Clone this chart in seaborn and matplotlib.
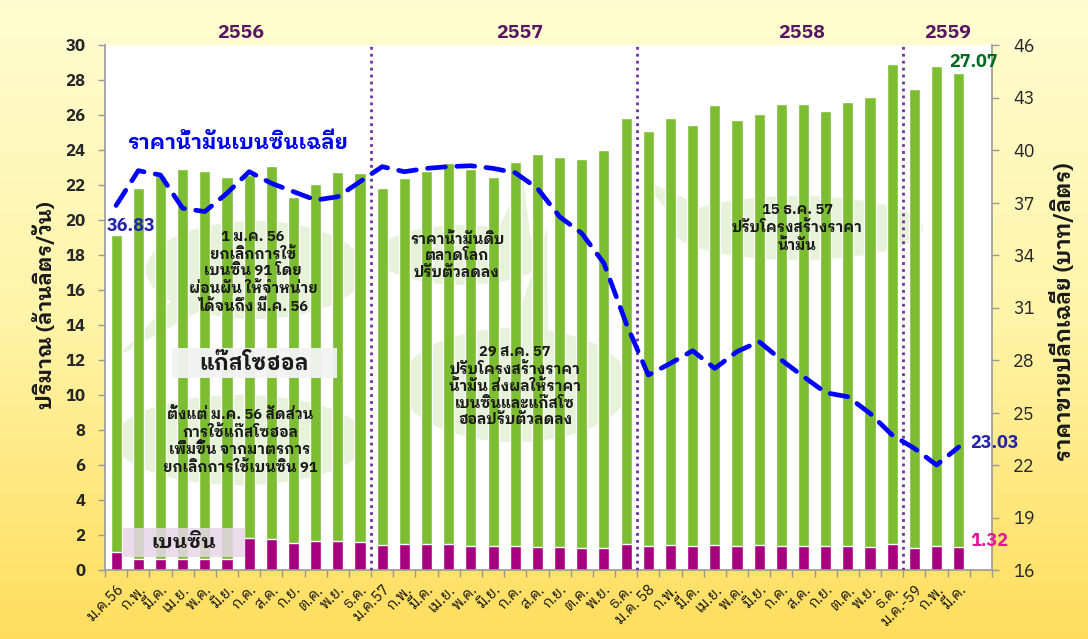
import numpy as np
import pandas as pd
import seaborn as sns
import matplotlib.pyplot as plt
from matplotlib.colors import LinearSegmentedColormap
from matplotlib.patches import Ellipse, Polygon, Rectangle

# --- data ---
months = ['ม.ค.56', 'ก.พ.', 'มี.ค.', 'เม.ย.', 'พ.ค.', 'มิ.ย.', 'ก.ค.', 'ส.ค.', 'ก.ย.', 'ต.ค.', 'พ.ย.', 'ธ.ค.',
          'ม.ค.57', 'ก.พ.', 'มี.ค.', 'เม.ย.', 'พ.ค.', 'มิ.ย.', 'ก.ค.', 'ส.ค.', 'ก.ย.', 'ต.ค.', 'พ.ย.', 'ธ.ค.',
          'ม.ค. 58', 'ก.พ.', 'มี.ค.', 'เม.ย.', 'พ.ค.', 'มิ.ย.', 'ก.ค.', 'ส.ค.', 'ก.ย.', 'ต.ค.', 'พ.ย.', 'ธ.ค.',
          'ม.ค.-59', 'ก.พ.', 'มี.ค.']
gasohol = [18.09, 21.22, 21.88, 22.27, 22.15, 21.85, 20.75, 21.28, 19.79, 20.44, 21.10, 21.09,
           20.40, 20.95, 21.31, 21.81, 21.55, 21.13, 21.98, 22.47, 22.32, 22.25, 22.76, 24.38,
           23.72, 24.44, 24.04, 25.14, 24.36, 24.65, 25.24, 25.24, 24.86, 25.35, 25.72, 27.44,
           26.23, 27.43, 27.07]
benzene = [1.05, 0.63, 0.63, 0.63, 0.63, 0.63, 1.85, 1.79, 1.52, 1.64, 1.64, 1.58,
           1.41, 1.47, 1.47, 1.47, 1.35, 1.35, 1.35, 1.30, 1.30, 1.24, 1.24, 1.47,
           1.37, 1.41, 1.37, 1.41, 1.37, 1.41, 1.37, 1.37, 1.37, 1.37, 1.31, 1.47,
           1.24, 1.37, 1.32]
price = [36.83, 38.82, 38.57, 36.67, 36.48, 37.53, 38.76, 38.10, 37.62, 37.14, 37.33, 38.19,
         39.05, 38.76, 38.95, 39.05, 39.10, 38.95, 38.70, 37.81, 36.19, 35.24, 33.53, 30.10,
         27.14, 27.81, 28.53, 27.52, 28.48, 29.05, 28.00, 27.05, 26.13, 25.90, 24.95, 23.71,
         22.95, 22.00, 23.03]
years = ['2556', '2557', '2558', '2559']

GREEN = '#7dbd31'
PURPLE = '#a6007e'
BLUE = '#0000ff'
W, H = 1088, 639

sns.set_theme(style='white')
plt.rcParams['font.family'] = ['IBM Plex Sans Thai Looped', 'Noto Sans Thai', 'DejaVu Sans']

df = pd.DataFrame({'idx': range(len(months)), 'gasohol': gasohol, 'benzene': benzene, 'price': price})
df['total'] = df['gasohol'] + df['benzene']

fig = plt.figure(figsize=(W / 100, H / 100), dpi=100)

# yellow slide background
bg = fig.add_axes([0, 0, 1, 1], zorder=-10)
grad = np.linspace(0, 1, 256).reshape(-1, 1)
bg.imshow(grad, aspect='auto', extent=[0, 1, 0, 1],
          cmap=LinearSegmentedColormap.from_list('bg', ['#ffde5e', '#fff4a8', '#fffdd2']), origin='lower')
bg.axis('off')


def fx(x):
    return x / W


def fy(y):
    return 1 - y / H


ax = fig.add_axes([fx(105), fy(570), fx(992) - fx(105), fy(45) - fy(570)])
ax.set_facecolor('white')

sns.barplot(data=df, x='idx', y='total', color=GREEN, width=0.5, saturation=1, ax=ax, zorder=2)
sns.barplot(data=df, x='idx', y='benzene', color=PURPLE, width=0.5, saturation=1, ax=ax, zorder=2)

ax.set_xlim(-0.5, len(months) + 0.5)
ax.set_ylim(0, 30)
ax.set_yticks(range(0, 31, 2))
ax.set_xticks(range(len(months)))
ax.set_xticklabels(months, rotation=45, ha='right', rotation_mode='anchor', fontsize=10.5, color='#111111')
ax.set_xticks(np.arange(-0.5, len(months) + 1, 1), minor=True)
ax.tick_params(axis='x', which='major', length=0, pad=9)
ax.tick_params(axis='x', which='minor', length=5, color='#999999', width=1, bottom=True)
ax.tick_params(axis='y', length=5, color='#999999', width=1, left=True, labelsize=12, pad=9)
for lbl in ax.get_yticklabels():
    lbl.set_fontweight('bold')
ax.set_xlabel('')
ax.set_ylabel('')
for s in ['left', 'bottom']:
    ax.spines[s].set_color('#999999')
    ax.spines[s].set_linewidth(1.2)
ax.spines['top'].set_visible(False)
ax.spines['right'].set_visible(False)

# year separators
for k in range(1, len(years)):
    ax.axvline(12 * k - 0.5, color='#7030a0', ls=(0, (1, 1.5)), lw=2, zorder=3)

# price line on the right axis
ax2 = ax.twinx()
sns.lineplot(data=df, x='idx', y='price', color=BLUE, lw=3.4, ax=ax2, zorder=5)
ln = ax2.lines[0]
ln.set_dashes((3.8, 2.4))
ln.set_dash_capstyle('round')
ax2.set_ylim(16, 46)
ax2.set_yticks(range(16, 47, 3))
ax2.set_xlim(-0.5, len(months) + 0.5)
ax2.set_ylabel('')
ax2.set_xlabel('')
ax2.tick_params(axis='y', length=5, color='#999999', width=1, right=True, labelsize=13, pad=10)
ax2.spines['right'].set_color('#999999')
ax2.spines['right'].set_linewidth(1.2)
for s in ['top', 'left', 'bottom']:
    ax2.spines[s].set_visible(False)

# callout bubbles (behind the bars)
BUB = '#e6f2da'
bubbles = [
    ((255, 270), 218, 98, [(180, 292), (205, 308), (118, 356)]),
    ((240, 440), 252, 90, None),
    ((462, 255), 170, 60, [(495, 236), (532, 250), (523, 177)]),
    ((515, 385), 230, 114, [(510, 340), (548, 336), (547, 228)]),
    ((797, 228), 252, 64, [(700, 205), (690, 240), (643, 180)]),
]
for (cx, cy), w, h, tail in bubbles:
    ax.add_patch(Ellipse((fx(cx), fy(cy)), w / W, h / H, transform=fig.transFigure,
                         facecolor=BUB, edgecolor='none', zorder=1))
    if tail:
        ax.add_patch(Polygon([(fx(x), fy(y)) for x, y in tail], closed=True, transform=fig.transFigure,
                             facecolor=BUB, edgecolor='none', zorder=1))

ax.add_patch(Rectangle((fx(172), fy(378)), (337 - 172) / W, 30 / H, transform=fig.transFigure,
                       facecolor='#f3f3f3', alpha=0.95, edgecolor='none', zorder=4))
ax.add_patch(Rectangle((fx(123), fy(557)), (245 - 123) / W, 29 / H, transform=fig.transFigure,
                       facecolor='#e7d6e8', alpha=0.85, edgecolor='none', zorder=4))

txt = dict(ha='center', va='center', fontsize=10.5, fontweight='bold', color='#1a1a1a', linespacing=1.22)
fig.text(fx(253), fy(272), '1 ม.ค. 56\nยกเลิกการใช้\nเบนซิน 91 โดย\nผ่อนผัน ให้จำหน่าย\nได้จนถึง มี.ค. 56', **txt)
fig.text(fx(240), fy(441), 'ตั้งแต่ ม.ค. 56 สัดส่วน\nการใช้แก๊สโซฮอล\nเพิ่มขึ้น จากมาตรการ\nยกเลิกการใช้เบนซิน 91', **txt)
fig.text(fx(457), fy(256), 'ราคาน้ำมันดิบ\nตลาดโลก\nปรับตัวลดลง', **txt)
fig.text(fx(515), fy(386), '29 ส.ค. 57\nปรับโครงสร้างราคา\nน้ำมัน ส่งผลให้ราคา\nเบนซินและแก๊สโซ\nฮอลปรับตัวลดลง', **txt)
fig.text(fx(797), fy(228), '15 ธ.ค. 57\nปรับโครงสร้างราคา\nน้ำมัน', **txt)

fig.text(fx(254), fy(363), 'แก๊สโซฮอล', ha='center', va='center', fontsize=15.5, fontweight='bold', color='#1a1a1a')
fig.text(fx(184), fy(543), 'เบนซิน', ha='center', va='center', fontsize=14.5, fontweight='bold', color='#1a1a1a')
fig.text(fx(238), fy(143), 'ราคาน้ำมันเบนซินเฉลี่ย', ha='center', va='center', fontsize=15,
         fontweight='bold', color='#0000ee')

# value labels
lab = dict(ha='center', va='center', fontsize=13, fontweight='bold')
fig.text(fx(131), fy(226), f'{price[0]:.2f}', color='#2222aa', **lab)
fig.text(fx(995), fy(443), f'{price[-1]:.2f}', color='#2222aa', **lab)
fig.text(fx(974), fy(62), f'{gasohol[-1]:.2f}', color='#006a1e', **lab)
fig.text(fx(989), fy(541), f'{benzene[-1]:.2f}', color='#e4159b', **lab)

# year headers
for name, xp in zip(years, [241, 520, 802, 948]):
    fig.text(fx(xp), fy(33), name, ha='center', va='center', fontsize=14, fontweight='bold', color='#5a1464')

fig.text(fx(45), fy(305), 'ปริมาณ (ล้านลิตร/วัน)', rotation=90, ha='center', va='center',
         fontsize=15, fontweight='bold', color='#1a1a1a')
fig.text(fx(1062), fy(312), 'ราคาขายปลีกเฉลี่ย (บาท/ลิตร)', rotation=90, ha='center', va='center',
         fontsize=15.5, fontweight='bold', color='#1a1a1a')

fig.savefig('out.png', dpi=100)
